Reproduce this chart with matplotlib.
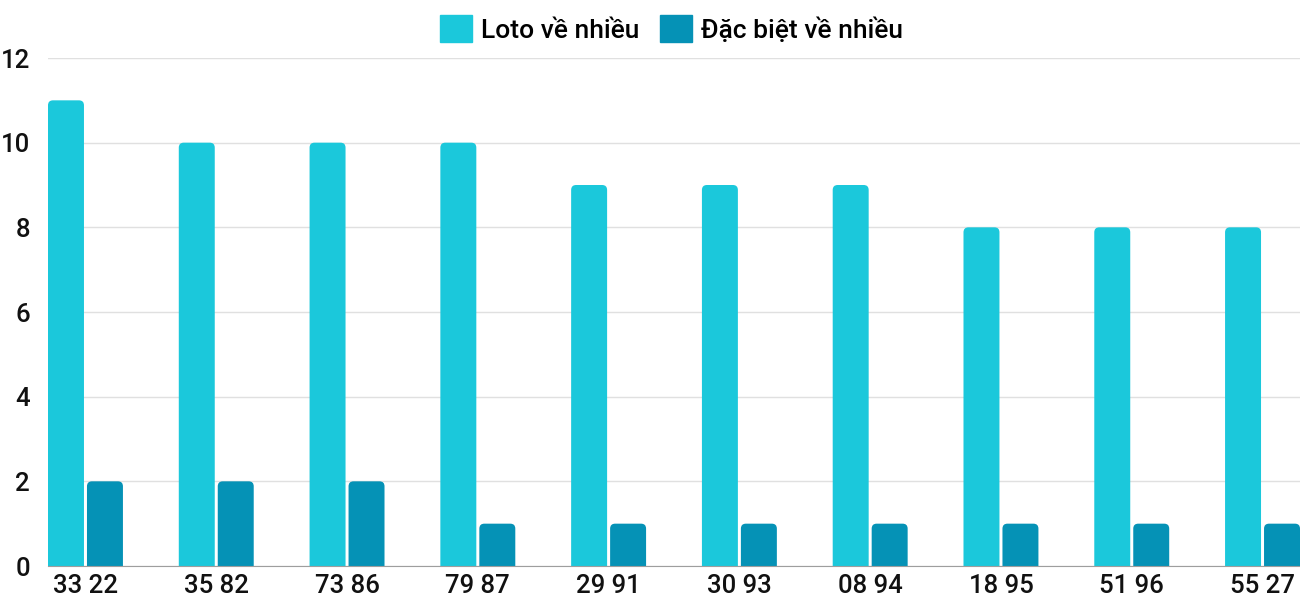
import matplotlib
matplotlib.use("Agg")
from matplotlib import pyplot as plt
from matplotlib.path import Path
from matplotlib.patches import PathPatch, Patch
import numpy as np

plt.rcParams['font.family'] = ['Roboto', 'DejaVu Sans']
plt.rcParams['font.weight'] = 'medium'

labels = ["33 22", "35 82", "73 86", "79 87", "29 91", "30 93", "08 94", "18 95", "51 96", "55 27"]
loto = [11, 10, 10, 10, 9, 9, 9, 8, 8, 8]
dacbiet = [2, 2, 2, 1, 1, 1, 1, 1, 1, 1]

c_loto = "#1bc8db"
c_db = "#0592b6"

fig = plt.figure(figsize=(13, 6), dpi=100)
ax = fig.add_axes([48 / 1300, 1 - 566 / 600, 1 - 48 / 1300, (566 - 58) / 600])

w = 0.275
off = 0.149
x = np.arange(len(labels))

b1 = ax.bar(x - off, loto, w, color=c_loto, zorder=3)
b2 = ax.bar(x + off, dacbiet, w, color=c_db, zorder=3)

ax.set_xlim(-off - w / 2, len(labels) - 1 + off + w / 2)
ax.set_ylim(0, 12)

# rounded top corners (radius ~5px)
rx = 5 / 130.8
ry = 5 / (508 / 12)


def round_bars(bars, color):
    for r in bars:
        x0, y0 = r.get_x(), r.get_y()
        x1, y1 = x0 + r.get_width(), y0 + r.get_height()
        verts = [(x0, y0), (x0, y1 - ry), (x0, y1), (x0 + rx, y1),
                 (x1 - rx, y1), (x1, y1), (x1, y1 - ry), (x1, y0), (x0, y0)]
        codes = [Path.MOVETO, Path.LINETO, Path.CURVE3, Path.CURVE3,
                 Path.LINETO, Path.CURVE3, Path.CURVE3, Path.LINETO, Path.CLOSEPOLY]
        ax.add_patch(PathPatch(Path(verts, codes), facecolor=color, edgecolor="none", zorder=3))
        r.set_visible(False)


round_bars(b1, c_loto)
round_bars(b2, c_db)

ax.set_yticks(range(0, 13, 2))
ax.set_xticks(x)
ax.set_xticklabels(labels)
ax.grid(axis="y", color="#e0e0e0", linewidth=1, zorder=0)
for s in ["top", "right", "left"]:
    ax.spines[s].set_visible(False)
ax.spines["bottom"].set_color("#9e9e9e")
ax.spines["bottom"].set_zorder(4)
ax.tick_params(axis="both", length=0, labelsize=18.5, colors="#111111")
ax.tick_params(axis="y", pad=13)
ax.tick_params(axis="x", pad=6)

handles = [Patch(color=c_loto, label="Loto về nhiều"), Patch(color=c_db, label="Đặc biệt về nhiều")]
fig.legend(handles=handles, loc="center", bbox_to_anchor=(671.5 / 1300, 1 - 29 / 600), ncol=2,
           frameon=False, fontsize=19, handlelength=1.2, handleheight=1.2,
           handletextpad=0.35, columnspacing=0.8)

fig.savefig("out.png", dpi=100)
